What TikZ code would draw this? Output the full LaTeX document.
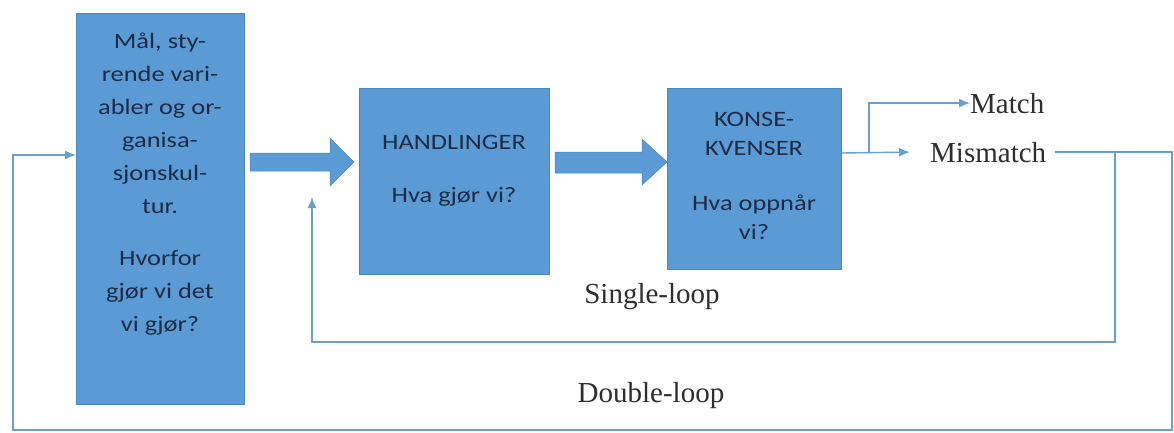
\documentclass[tikz,border=0pt]{standalone}
\usepackage{fontspec}
\setmainfont{Liberation Serif}
\newfontfamily\boxfont[FakeStretch=1.2]{Carlito}
\usetikzlibrary{arrows.meta}
\definecolor{boxblue}{HTML}{5B9BD5}
\definecolor{boxedge}{HTML}{4A87C2}
\definecolor{boxtext}{HTML}{1E2B45}
\definecolor{linkblue}{HTML}{6A9FD3}
\definecolor{labelgray}{HTML}{2E2E2E}

\begin{document}
\begin{tikzpicture}[x=1pt,y=-1pt,
  panel/.style={draw=boxedge, line width=0.8pt, fill=boxblue, anchor=north west, inner sep=0pt},
  paneltext/.style={text=boxtext, align=center, inner sep=0pt,
    font=\boxfont\fontsize{22}{33}\selectfont},
  looplabel/.style={text=labelgray, inner sep=0pt, font=\fontsize{29}{34}\selectfont},
  link/.style={draw=linkblue, line width=1.4pt},
  tip/.style={-{Latex[length=11pt,width=9pt]}},
  bigarrow/.style={fill=boxblue, draw=boxedge, line width=0.5pt}
]
\useasboundingbox (0,0) rectangle (1174,432);
\fill[white] (0,0) rectangle (1174,432);

% the three process boxes
\node[panel, minimum width=168pt, minimum height=391pt] (goals) at (76,13) {};
\node[panel, minimum width=190pt, minimum height=186pt] (acts) at (359,88) {};
\node[panel, minimum width=174pt, minimum height=181pt] (cons) at (667,88) {};

\node[paneltext] (goalstext) at (160,184)
  {Mål, sty-\\rende vari-\\abler og or-\\ganisa-\\sjonskul-\\tur.\\[19pt]Hvorfor\\gjør vi det\\vi gjør?};
\node[paneltext] (actstext) at (454,171) {HANDLINGER\\[20pt]Hva gjør vi?};
\node[paneltext, font=\boxfont\fontsize{22}{29}\selectfont] (constext) at (754,176)
  {KONSE-\\KVENSER\\[26pt]Hva oppnår\\vi?};

% block arrows between the boxes
\fill[bigarrow] (250,153) -- (330,153) -- (330,138) -- (354,162) -- (330,186)
  -- (330,171) -- (250,171) -- cycle;
\fill[bigarrow] (555,152) -- (642,152) -- (642,139) -- (667,162) -- (642,185)
  -- (642,173) -- (555,173) -- cycle;

% outcome labels
\node[looplabel, anchor=base west] (match) at (970,113) {Match};
\node[looplabel, anchor=base west] (mis) at (930,162) {Mismatch};
\node[looplabel, anchor=base] (single) at (652,303) {Single-loop};
\node[looplabel, anchor=base] (double) at (651,402) {Double-loop};

% outcome split
\coordinate (split) at (869,153);
\draw[link, tip] (cons.east |- split) -- ([xshift=-20pt]mis.west);
\draw[link, tip] (split) |- (match.west);

% single loop back to the actions
\coordinate (slturn) at (1115,153);
\coordinate (slbottom) at (1115,342);
\coordinate (slend) at (312,197);
\draw[link, tip] (slturn) -- (slbottom) -| (slend);

% double loop back to the governing variables
\coordinate (dlright) at (1172,430);
\coordinate (dlleft) at (13,430);
\draw[link, tip] ([xshift=9pt]mis.east) -| (dlright) -- (dlleft) |- (goals.west |- 0,155);
\end{tikzpicture}
\end{document}
